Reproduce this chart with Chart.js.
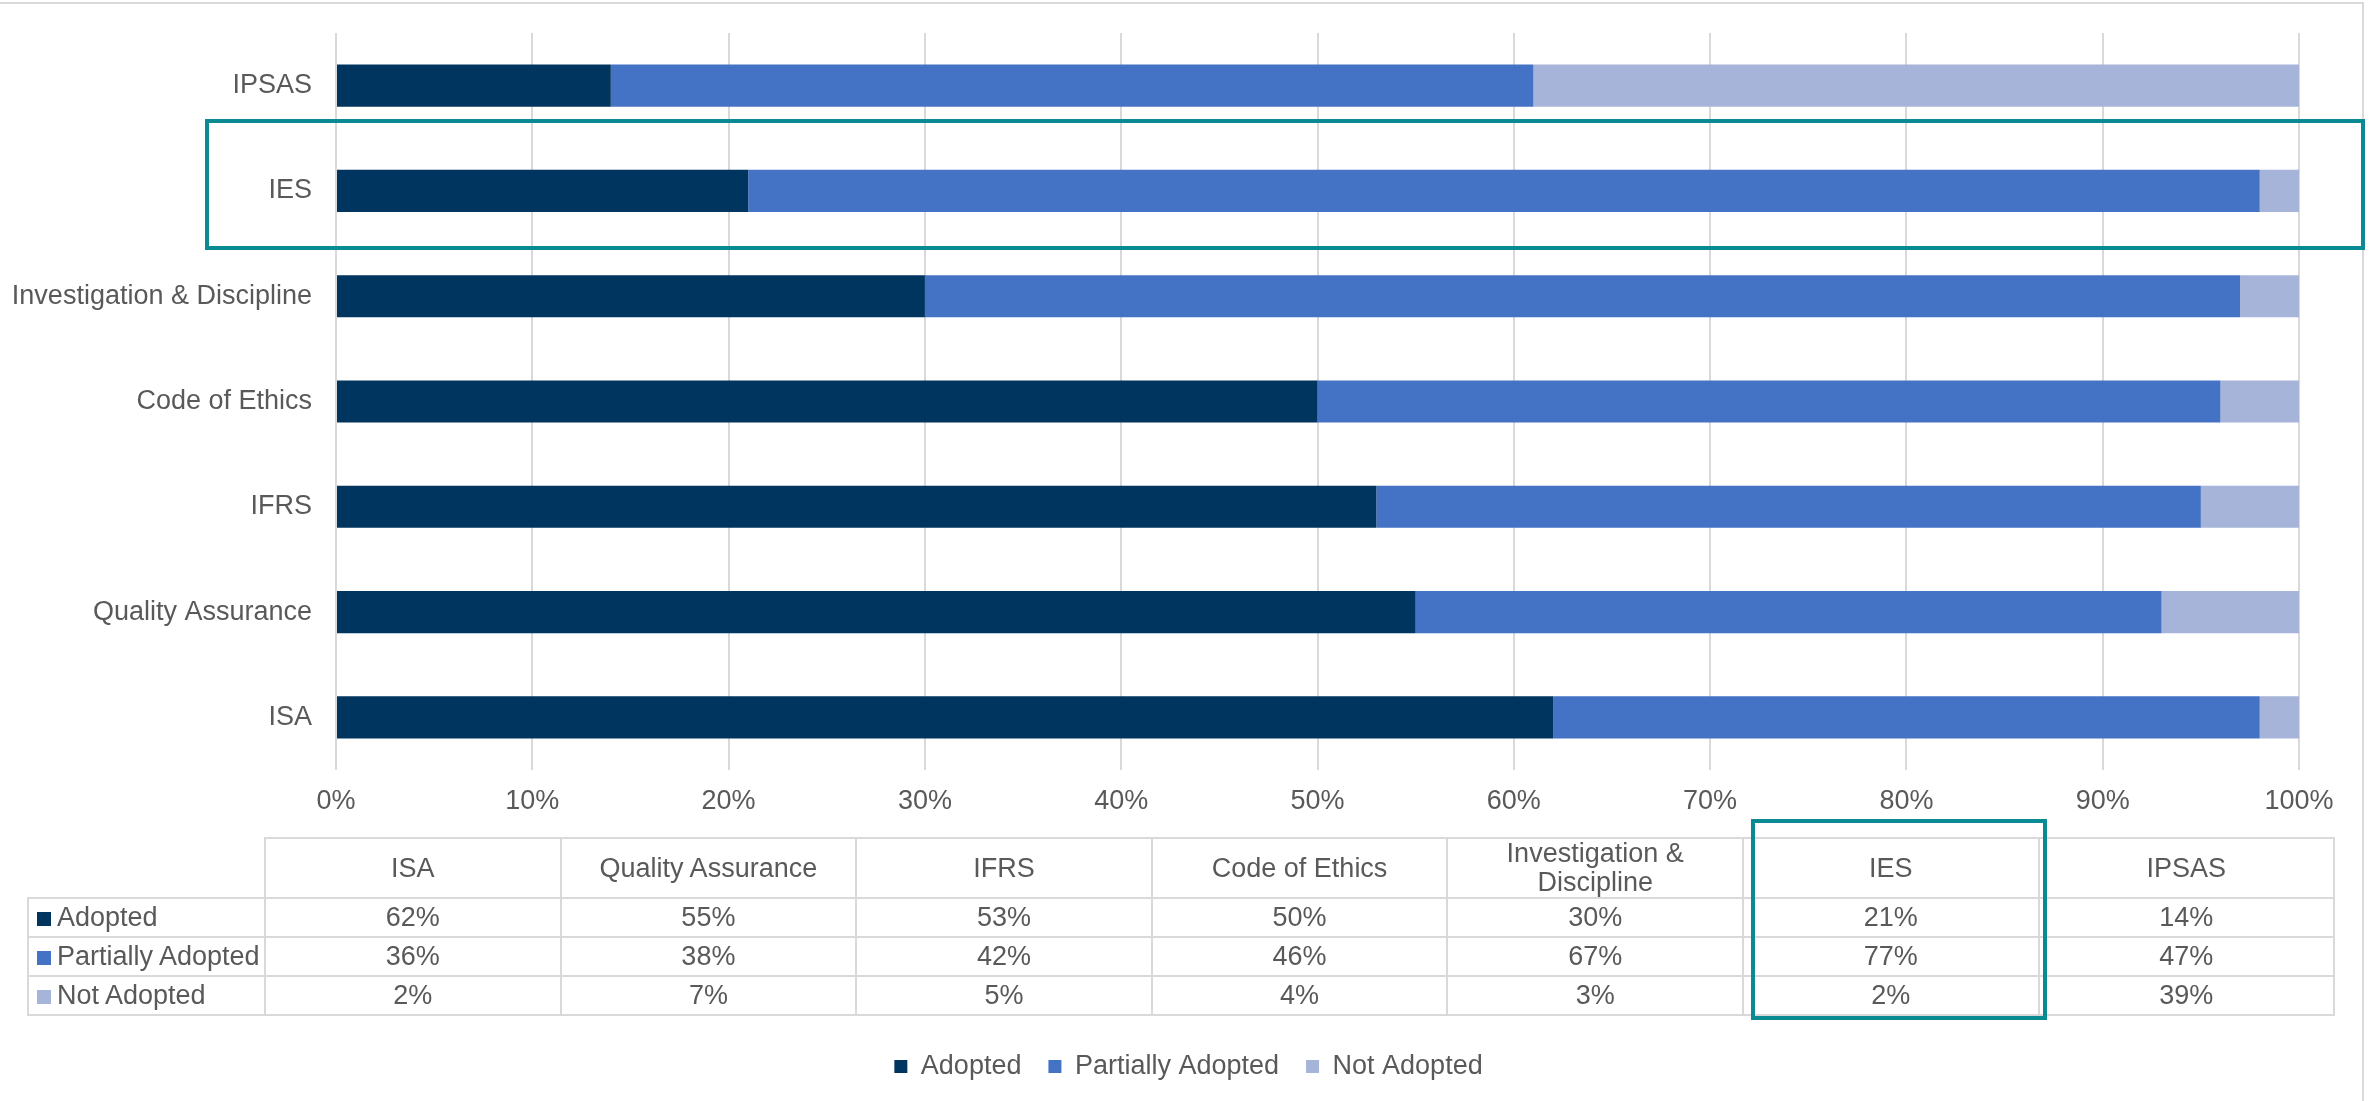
<!DOCTYPE html>
<html>
<head>
<meta charset="utf-8">
<script src="https://cdn.jsdelivr.net/npm/chart.js@4"></script>
<style>
  html, body { margin: 0; padding: 0; background: #fff; }
  #wrap { position: relative; width: 2377px; height: 1101px; overflow: hidden;
          font-family: "Liberation Sans", Arial, sans-serif; color: #595959; }
  #frame { position: absolute; left: -4px; top: 2px; width: 2368px; height: 1200px;
           border-top: 2px solid #D9D9D9; border-right: 2px solid #D9D9D9; box-sizing: border-box; }
  #myChartBar { position: absolute; left: 0; top: 0; }
  #dataTable { position: absolute; left: 27px; top: 837px; border-collapse: collapse;
               table-layout: fixed; font-size: 27px; }
  #dataTable td { border: 2px solid #D9D9D9; text-align: center; padding: 0;
                  white-space: normal; line-height: 29px; }
  #dataTable td.blank { border: none; }
  #dataTable td.rowhead { text-align: left; padding-left: 8px; white-space: nowrap; }
  #dataTable tr.head td { height: 54px; }
  #dataTable tr.body td { height: 37px; }
  .key { display: inline-block; width: 14px; height: 14px; margin-right: 6px; vertical-align: 0px; }
  .hl { position: absolute; border: 4px solid #0A8A93; box-sizing: border-box; }
</style>
</head>
<body>
<div id="wrap">
  <div id="frame"></div>
  <canvas id="myChartBar" width="2377" height="1101"></canvas>
  <table id="dataTable"></table>
  <div class="hl" style="left:205px; top:119px; width:2160px; height:131px;"></div>
  <div class="hl" style="left:1751px; top:819px; width:296px; height:201px;"></div>
</div>
<script>
let categories = ["ISA", "Quality Assurance", "IFRS", "Code of Ethics", "Investigation & Discipline", "IES", "IPSAS"];
let adopted = [62, 55, 53, 50, 30, 21, 14];
let partiallyAdopted = [36, 38, 42, 46, 67, 77, 47];
let notAdopted = [2, 7, 5, 4, 3, 2, 39];
let seriesNames = ["Adopted", "Partially Adopted", "Not Adopted"];
let colors = ["#00355F", "#4472C4", "#A7B4DA"];
let xTicks = [0, 10, 20, 30, 40, 50, 60, 70, 80, 90, 100];

// data table under the axis
let series = [adopted, partiallyAdopted, notAdopted];
let html = '<colgroup><col style="width:237px">';
for (let i = 0; i < categories.length; i++) html += '<col style="width:295.6px">';
html += '</colgroup><tr class="head"><td class="blank"></td>';
categories.forEach(c => { html += '<td>' + c.replace('& ', '&amp; ') + '</td>'; });
html += '</tr>';
for (let s = 0; s < series.length; s++) {
  html += '<tr class="body"><td class="rowhead"><span class="key" style="background:' + colors[s] + '"></span>' + seriesNames[s] + '</td>';
  series[s].forEach(v => { html += '<td>' + v + '%</td>'; });
  html += '</tr>';
}
document.getElementById("dataTable").innerHTML = html;

Chart.defaults.font.family = '"Liberation Sans", Arial, sans-serif';
Chart.defaults.font.size = 27;
Chart.defaults.color = "#595959";

new Chart(document.getElementById("myChartBar"), {
  type: 'bar',
  data: {
    labels: categories,
    datasets: series.map((d, i) => ({
      label: seriesNames[i],
      data: d,
      backgroundColor: colors[i],
      borderWidth: 0,
      barPercentage: 0.4,
      categoryPercentage: 1
    }))
  },
  options: {
    indexAxis: 'y',
    responsive: false,
    devicePixelRatio: 1,
    animation: false,
    layout: { padding: { top: 33, right: 0, bottom: 11, left: 0 } },
    plugins: {
      tooltip: { enabled: false },
      legend: {
        position: 'bottom',
        labels: { boxWidth: 13, boxHeight: 13, padding: 27, font: { size: 27 }, color: "#595959" }
      }
    },
    scales: {
      x: {
        stacked: true,
        min: 0,
        max: 100,
        afterBuildTicks: s => { s.ticks = xTicks.map(v => ({ value: v })); },
        afterFit: s => { s.height = 256; },
        grid: { color: "#D9D9D9", lineWidth: 2, drawTicks: false },
        border: { display: false },
        ticks: { padding: 15, callback: v => v + '%', maxRotation: 0 }
      },
      y: {
        stacked: true,
        reverse: true,
        afterFit: s => { s.width = 336; },
        grid: { display: false },
        border: { display: false },
        ticks: { padding: 16 }
      },
      // empty right margin so the legend centres on the whole canvas
      yRight: {
        type: 'category',
        position: 'right',
        afterFit: s => { s.width = 78; },
        grid: { display: false, drawTicks: false },
        border: { display: false },
        ticks: { display: false }
      }
    }
  }
});
</script>
</body>
</html>
